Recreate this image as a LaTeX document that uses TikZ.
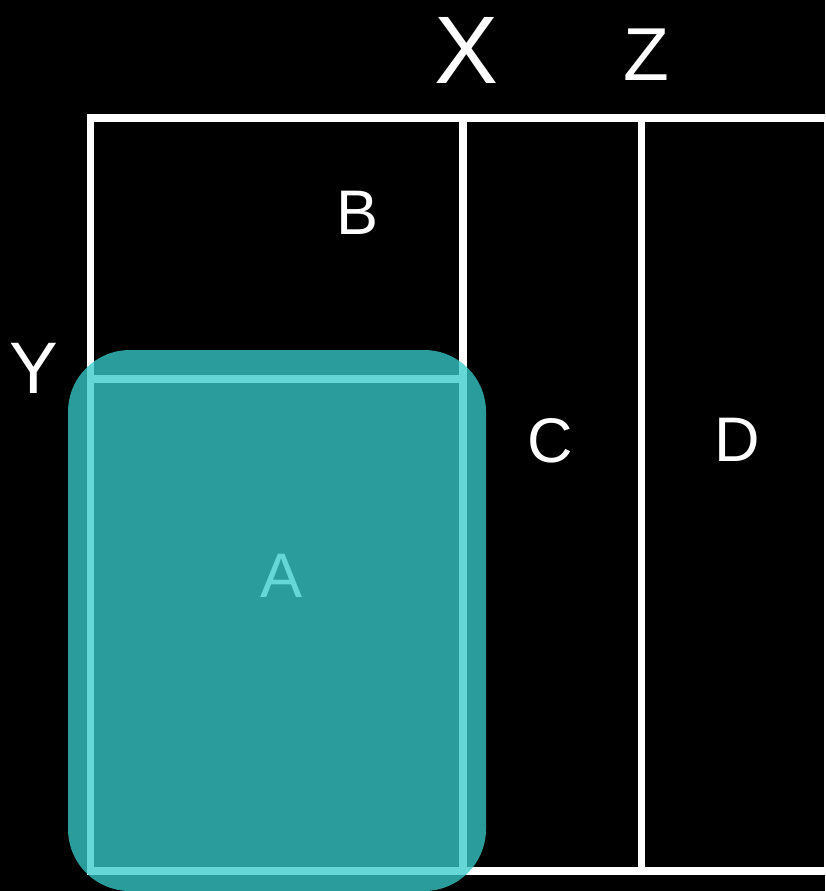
\documentclass[tikz,border=0pt]{standalone}
\usepackage{fontspec}
\setmainfont{Liberation Sans}
\begin{document}
\begin{tikzpicture}[x=1pt,y=-1pt,
  gridline/.style={draw=white,line width=7.5pt},
  lbl/.style={text=white,inner sep=0pt,anchor=base},
  big/.style={font=\fontsize{96}{96}\selectfont},
  mid/.style={font=\fontsize{75}{75}\selectfont},
  ylab/.style={font=\fontsize{73}{73}\selectfont},
  cell/.style={font=\fontsize{63}{63}\selectfont},
  overlay/.style={fill=tealc,fill opacity=0.77,rounded corners=62pt,draw=none}]
\definecolor{tealc}{RGB}{56,203,203}
\fill[black] (0,0) rectangle (825,891);
\useasboundingbox (0,0) rectangle (825,891);
% grid corners
\coordinate (tl) at (90.5,118);
\coordinate (tr) at (828,118);
\coordinate (bl) at (90.5,871);
\coordinate (br) at (828,871);
\coordinate (c1t) at (463,118);
\coordinate (c1b) at (463,871);
\coordinate (c2t) at (641.5,118);
\coordinate (c2b) at (641.5,871);
\coordinate (ml) at (90.5,379);
\coordinate (mr) at (463,379);
\draw[gridline] (tl) rectangle (br);
\draw[gridline] (c1t) -- (c1b);
\draw[gridline] (c2t) -- (c2b);
\draw[gridline] (ml) -- (mr);
% labels
\node[lbl,big] (X) at (467,84) {X};
\node[lbl,mid] (Z) at (646,81) {Z};
\node[lbl,ylab] (Y) at (34,393) {Y};
\node[lbl,cell] (B) at (358,234) {B};
\node[lbl,cell] (C) at (550,462) {C};
\node[lbl,cell] (D) at (737,461) {D};
\node[lbl,cell] (A) at (282,597) {A};
% translucent teal overlay
\fill[overlay] (68,350) rectangle (486,891);
\end{tikzpicture}
\end{document}
